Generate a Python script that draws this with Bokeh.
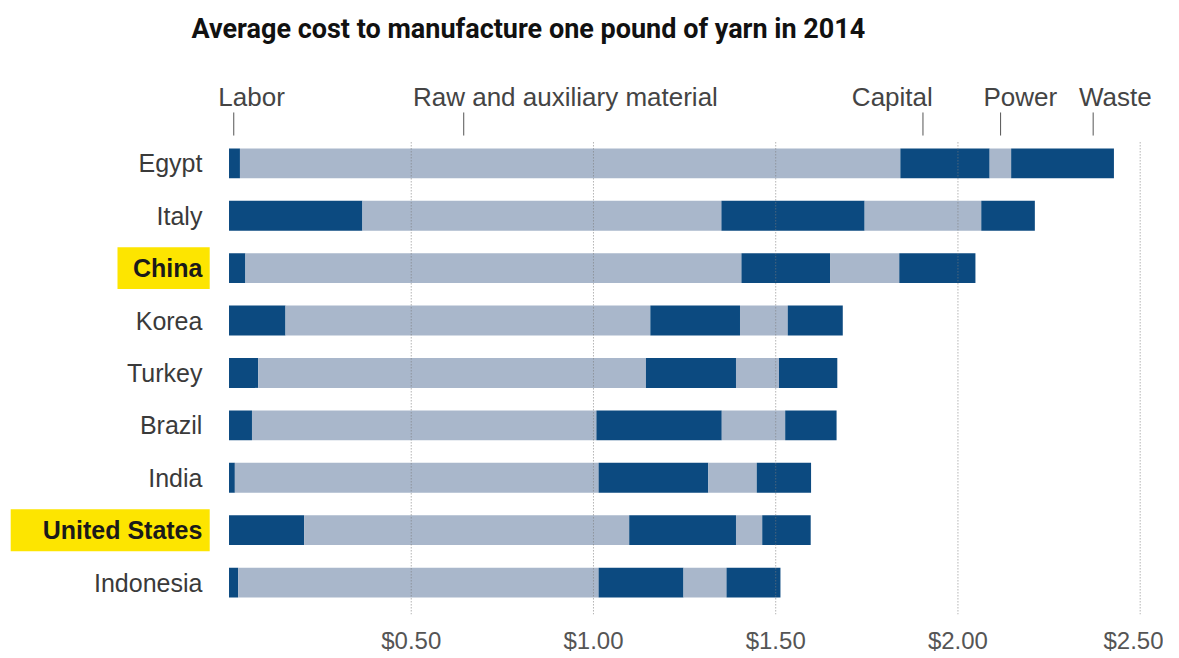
from bokeh.plotting import figure
from bokeh.models import Range1d, FixedTicker, ColumnDataSource
from bokeh.core.properties import value
from bokeh.embed import file_html
from bokeh.resources import INLINE

# ---- data (dollars per pound of yarn) ----
countries = ["Egypt", "Italy", "China", "Korea", "Turkey", "Brazil", "India",
             "United States", "Indonesia"]
labor   = [0.030, 0.366, 0.045, 0.155, 0.080, 0.063, 0.016, 0.206, 0.025]
raw     = [1.812, 0.985, 1.361, 1.001, 1.064, 0.945, 0.998, 0.892, 0.989]
capital = [0.245, 0.393, 0.243, 0.246, 0.247, 0.344, 0.301, 0.293, 0.233]
power   = [0.059, 0.320, 0.190, 0.131, 0.118, 0.174, 0.133, 0.072, 0.118]
waste   = [0.282, 0.147, 0.209, 0.151, 0.160, 0.141, 0.149, 0.133, 0.148]
components = ["Labor", "Raw and auxiliary material", "Capital", "Power", "Waste"]
highlighted = ["China", "United States"]
tick_values = [0.5, 1.0, 1.5, 2.0, 2.5]
tick_labels = ["$0.50", "$1.00", "$1.50", "$2.00", "$2.50"]
title_text = "Average cost to manufacture one pound of yarn in 2014"

# ---- styling / layout ----
DARK = "#0c4a80"
LIGHT = "#a9b7cb"
YELLOW = "#fde500"
FONT = "Liberation Sans"
TITLE_FONT = "Roboto"

header_label_x = [0.062, 0.923, 1.820, 2.171, 2.432]
header_tick_x = [0.013, 0.644, 1.904, 2.117, 2.371]
header_label_y = -1.257
header_tick_y = (-0.97, -0.53)
label_x = -0.073
box_right = -0.053
box_left = {"China": -0.306, "United States": -0.599}

rows = list(range(len(countries)))
src = ColumnDataSource(dict(row=rows, country=countries, labor=labor, raw=raw,
                            capital=capital, power=power, waste=waste))

p = figure(width=1163, height=656, output_backend="svg", toolbar_location=None,
           x_range=Range1d(-0.627, 2.564), y_range=Range1d(8.609, -2.229),
           y_axis_location=None, min_border_left=0, min_border_right=0,
           min_border_top=46, min_border_bottom=0)
p.outline_line_color = None
p.xgrid.visible = False
p.ygrid.visible = False

p.title.text = title_text
p.title.text_font = TITLE_FONT
p.title.text_font_size = "27px"
p.title.text_font_style = "bold"
p.title.text_color = "#111111"
p.title.align = "left"
p.title.offset = 191
p.title.standoff = 3

# highlight boxes
hl_rows = [countries.index(c) for c in highlighted]
p.quad(left=[box_left[c] for c in highlighted], right=[box_right] * len(highlighted),
       top=[r - 0.40 for r in hl_rows], bottom=[r + 0.40 for r in hl_rows],
       fill_color=YELLOW, line_color=None)

# stacked bars
p.hbar_stack(["labor", "raw", "capital", "power", "waste"], y="row", height=0.57,
             color=[DARK, LIGHT, DARK, LIGHT, DARK], line_color=None, source=src)

# dotted grid lines on top
p.segment(x0=tick_values, x1=tick_values, y0=[-0.40] * 5, y1=[8.82] * 5,
          line_color="#7a7a7a", line_dash="1 2", line_width=1, line_alpha=0.85)

# country labels
normal = [c for c in countries if c not in highlighted]
p.text(x=[label_x] * len(normal), y=[countries.index(c) for c in normal], text=normal,
       text_align="right", text_baseline="middle", text_font=value(FONT),
       text_font_size="25px", text_color="#3a3a3a")
p.text(x=[label_x] * len(highlighted), y=hl_rows, text=highlighted,
       text_align="right", text_baseline="middle", text_font=value(FONT),
       text_font_size="25px", text_font_style="bold", text_color="#1a1a1a")

# component header labels and ticks
p.text(x=header_label_x, y=[header_label_y] * 5, text=components,
       text_align="center", text_baseline="middle", text_font=value(FONT),
       text_font_size="26px", text_color="#444444")
p.segment(x0=header_tick_x, x1=header_tick_x, y0=[header_tick_y[0]] * 5,
          y1=[header_tick_y[1]] * 5, line_color="#555555", line_width=1)

# x axis
ax = p.xaxis[0]
ax.ticker = FixedTicker(ticks=tick_values)
ax.major_label_overrides = {v: l for v, l in zip(tick_values, tick_labels)}
ax.axis_line_color = None
ax.major_tick_line_color = None
ax.minor_tick_line_color = None
ax.major_label_text_font = FONT
ax.major_label_text_font_size = "24px"
ax.major_label_text_color = "#555555"
ax.major_label_standoff = 6

open("out.html", "w").write(file_html(p, INLINE))
